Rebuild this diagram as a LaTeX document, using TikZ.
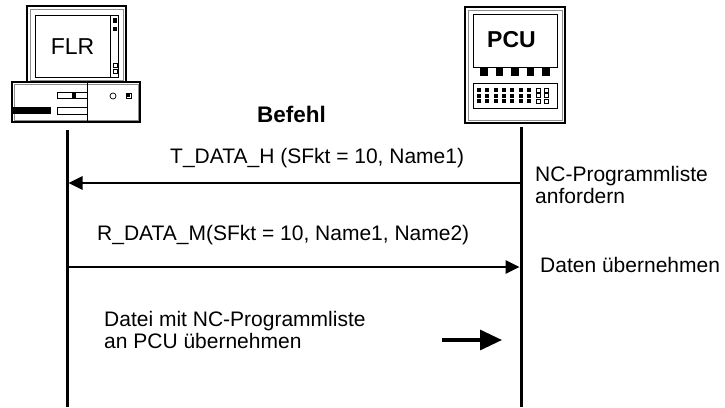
\documentclass[tikz,border=0pt]{standalone}
\usepackage{fontspec}
\setmainfont{Liberation Sans}
\usetikzlibrary{arrows.meta}
\tikzset{
  txt/.style={inner sep=0pt, font=\fontsize{21}{22}\selectfont},
  lifeline/.style={line width=3pt},
  msg/.style={line width=2.6pt, -{Triangle[length=14pt,width=13pt]}},
  bigmsg/.style={line width=3.2pt, -{Triangle[length=22pt,width=20pt]}},
  frame/.style={draw=black, line width=1.4pt},
  innerline/.style={draw=black!45, line width=0.8pt},
  thin/.style={draw=black, line width=1pt},
  blk/.style={fill=black, draw=none},
}
\begin{document}
\begin{tikzpicture}[x=1pt,y=-1pt]
\useasboundingbox (0,0) rectangle (725,407);
\fill[white] (0,0) rectangle (725,407);

% ---------- FLR computer ----------
% monitor
\draw[frame] (27,6) rectangle (126,82);
\draw[innerline] (30,9) rectangle (123,80);
\draw[thin] (35,15) rectangle (118,77);
\draw[thin] (110,15) -- (110,77);
\fill[blk] (113,18) rectangle (117,23);
\fill[blk] (113,27) rectangle (117,31);
\draw[line width=0.7pt] (113,63) rectangle (117,67);
\draw[line width=0.7pt] (113,69) rectangle (117,73);
\node[inner sep=0pt, font=\fontsize{23}{24}\selectfont] (flr) at (72.5,47) {FLR};
% base
\draw[frame] (12,82) rectangle (140,122);
\draw[innerline] (14,84) rectangle (138,120);
\draw[thin] (87,82) -- (87,122);
\draw[thin] (57,92) rectangle (87,98);
\fill[blk] (72,92) rectangle (76,98);
\fill[blk] (13,107) rectangle (51,114);
\draw[thin] (57,107) rectangle (87,114);
\draw[line width=0.7pt] (113,96) circle (3);
\draw[line width=0.7pt] (126,93) rectangle (131,98);
\fill[blk] (127.3,94.3) rectangle (130,97);

% ---------- PCU ----------
\draw[frame] (465,7) rectangle (565,123);
\draw[innerline] (468,10) rectangle (562,120);
\draw[thin] (473,14) rectangle (557,67);
\node[inner sep=0pt, font=\bfseries\fontsize{23}{24}\selectfont] (pcu) at (511.5,40) {PCU};
\foreach \cx in {484,499.5,515,530.5,546}
  \fill[blk] (\cx-3.8,67) rectangle (\cx+3.8,75.5);
\draw[thin] (473,83) rectangle (557,108);
\foreach \ry in {90,95.5,101}{
  \foreach \k in {0,...,6}
    \fill[blk] ({479+8.33*\k-2},\ry-2) rectangle ({479+8.33*\k+2},\ry+2);
  \draw[line width=0.6pt] (536,\ry-2) rectangle (540,\ry+2);
  \draw[line width=0.6pt] (544.5,\ry-2) rectangle (548.5,\ry+2);
}

% ---------- lifelines ----------
\coordinate (flrTop) at (67,130);
\coordinate (flrBot) at (67,407);
\coordinate (pcuTop) at (521,127);
\coordinate (pcuBot) at (521,407);
\draw[lifeline] (flrTop) -- (flrBot);
\draw[lifeline] (pcuTop) -- (pcuBot);

% ---------- texts ----------
\node[inner sep=0pt, anchor=base west, font=\bfseries\fontsize{22.5}{24}\selectfont] (befehl) at (257,122) {Befehl};
\node[txt, anchor=base west] (t1) at (170,163) {T\_DATA\_H (SFkt = 10, Name1)};
\node[txt, anchor=base west] (t2) at (97,240) {R\_DATA\_M(SFkt = 10, Name1, Name2)};
\node[txt, anchor=north west, align=left] (nc) at (535,166.5) {NC-Programmliste\\anfordern};
\node[txt, anchor=base west] (daten) at (540,272) {Daten übernehmen};
\node[txt, anchor=north west, align=left] (datei) at (104,311) {Datei mit NC-Programmliste\\an PCU übernehmen};

% ---------- messages ----------
\coordinate (p1) at (521,183);
\coordinate (f1) at (68.5,183);
\coordinate (f2) at (67,267);
\coordinate (p2) at (519.5,267);
\draw[msg] (p1) -- (f1);
\draw[msg] (f2) -- (p2);
\coordinate (a3s) at (442,340);
\coordinate (a3e) at (502,340);
\draw[bigmsg] (a3s) -- (a3e);
\end{tikzpicture}
\end{document}
